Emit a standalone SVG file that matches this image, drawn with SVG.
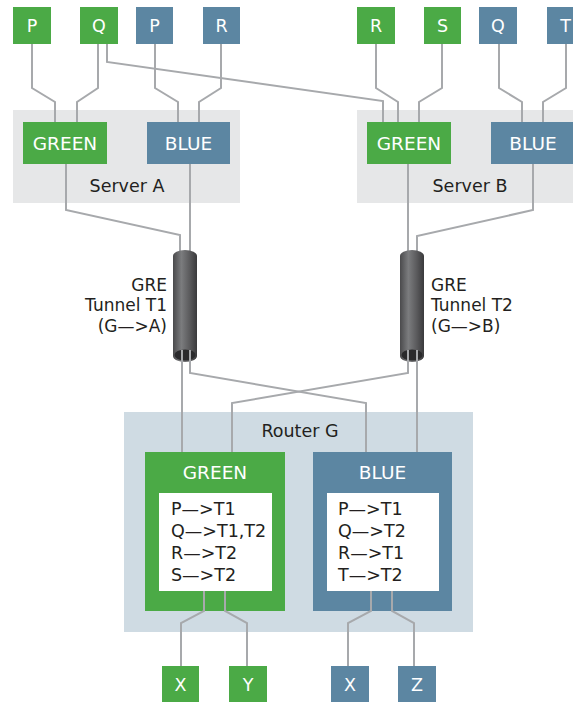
<svg xmlns="http://www.w3.org/2000/svg" width="573" height="702" viewBox="0 0 573 702">
<style>
.g{fill:#4baa46}
.b{fill:#5c86a2}
.srv{fill:#e6e7e8}
.rtr{fill:#cfdbe3}
.w{fill:#ffffff}
.lbl{font-family:"DejaVu Sans","Liberation Sans",sans-serif;fill:#ffffff;text-anchor:middle}
.dk{font-family:"DejaVu Sans","Liberation Sans",sans-serif;fill:#231f20}
.con path{fill:none;stroke:#a7a9ac;stroke-width:2;stroke-linejoin:miter}
.tb{fill:url(#tg)}
.th{fill:#2a2a2c}
</style>
<defs>
<linearGradient id="tg" x1="0" y1="0" x2="1" y2="0">
<stop offset="0" stop-color="#4a4a4c"/>
<stop offset="0.35" stop-color="#7b7c7e"/>
<stop offset="0.7" stop-color="#5a5a5c"/>
<stop offset="1" stop-color="#3a3a3c"/>
</linearGradient>
</defs>

<g id="serverA">
<rect class="srv" x="13" y="110" width="227" height="93"/>
<text class="dk" x="127" y="192" font-size="17.5" text-anchor="middle">Server A</text>
</g>
<g id="serverB">
<rect class="srv" x="357" y="110" width="216" height="93"/>
<text class="dk" x="470" y="192" font-size="17.5" text-anchor="middle">Server B</text>
</g>
<g id="routerG">
<rect class="rtr" x="124" y="412" width="349" height="220"/>
<text class="dk" x="300" y="437" font-size="17.5" text-anchor="middle">Router G</text>
</g>

<g id="connectors" class="con">
<path d="M32,44V88L55,102V122"/>
<path d="M98,44V88L77,102V122"/>
<path d="M107,44V62L383,101V122"/>
<path d="M155,44V88L178,102V122"/>
<path d="M221,44V88L199,102V122"/>
<path d="M376,44V88L398,102V122"/>
<path d="M442,44V88L419,102V122"/>
<path d="M499,44V88L522,102V122"/>
<path d="M566,44V88L543,102V122"/>
<path d="M66,164V210L180,235V256"/>
<path d="M190,164V256"/>
<path d="M408,164V256"/>
<path d="M533,164V210L417,236V256"/>
</g>

<g id="tunnelT1">
<path class="tb" d="M173,256A12,6 0 0 1 197,256V356A12,6 0 0 1 173,356Z"/>
<ellipse class="th" cx="185" cy="355" rx="10.5" ry="5.5"/>
<text class="dk" font-size="17" text-anchor="end"><tspan x="167" y="291">GRE</tspan><tspan x="167" y="311">Tunnel T1</tspan><tspan x="167" y="332">(G—&gt;A)</tspan></text>
</g>
<g id="tunnelT2">
<path class="tb" d="M400,256A12,6 0 0 1 424,256V356A12,6 0 0 1 400,356Z"/>
<ellipse class="th" cx="412" cy="355" rx="10.5" ry="5.5"/>
<text class="dk" font-size="17"><tspan x="431" y="291">GRE</tspan><tspan x="431" y="311">Tunnel T2</tspan><tspan x="431" y="332">(G—&gt;B)</tspan></text>
</g>

<g id="routerGreen">
<rect class="g" x="145" y="452" width="140" height="159"/>
<rect class="w" x="159" y="493" width="113" height="98"/>
<text class="lbl" x="215" y="479" font-size="18.5">GREEN</text>
<text class="dk" font-size="17.5"><tspan x="171" y="515">P—&gt;T1</tspan><tspan x="171" y="537">Q—&gt;T1,T2</tspan><tspan x="171" y="559">R—&gt;T2</tspan><tspan x="171" y="581">S—&gt;T2</tspan></text>
</g>
<g id="routerBlue">
<rect class="b" x="313" y="452" width="139" height="159"/>
<rect class="w" x="327" y="493" width="112" height="98"/>
<text class="lbl" x="382.5" y="479" font-size="18.5">BLUE</text>
<text class="dk" font-size="17.5"><tspan x="338" y="515">P—&gt;T1</tspan><tspan x="338" y="537">Q—&gt;T2</tspan><tspan x="338" y="559">R—&gt;T1</tspan><tspan x="338" y="581">T—&gt;T2</tspan></text>
</g>

<g id="connectors2" class="con">
<path d="M182,350V452"/>
<path d="M190,350V373L366,403V452"/>
<path d="M408,350V373L232,403V452"/>
<path d="M417,350V452"/>
<path d="M204,591V611L181,623V666"/>
<path d="M225,591V611L247,623V666"/>
<path d="M371,591V611L348,623V666"/>
<path d="M392,591V611L414,623V666"/>
</g>

<g id="serverA-green"><rect class="g" x="23" y="122" width="84" height="42"/><text class="lbl" x="65" y="150" font-size="18.5">GREEN</text></g>
<g id="serverA-blue"><rect class="b" x="147" y="122" width="83" height="42"/><text class="lbl" x="188.5" y="150" font-size="18.5">BLUE</text></g>
<g id="serverB-green"><rect class="g" x="367" y="122" width="84" height="42"/><text class="lbl" x="409" y="150" font-size="18.5">GREEN</text></g>
<g id="serverB-blue"><rect class="b" x="491" y="122" width="84" height="42"/><text class="lbl" x="533" y="150" font-size="18.5">BLUE</text></g>

<g id="topP-green"><rect class="g" x="13" y="7" width="38" height="37"/><text class="lbl" x="32" y="32" font-size="17.5">P</text></g>
<g id="topQ-green"><rect class="g" x="80" y="7" width="38" height="37"/><text class="lbl" x="99" y="32" font-size="17.5">Q</text></g>
<g id="topP-blue"><rect class="b" x="136" y="7" width="37" height="37"/><text class="lbl" x="154.5" y="32" font-size="17.5">P</text></g>
<g id="topR-blue"><rect class="b" x="203" y="7" width="37" height="37"/><text class="lbl" x="221.5" y="32" font-size="17.5">R</text></g>
<g id="topR-green"><rect class="g" x="357" y="7" width="38" height="37"/><text class="lbl" x="376" y="32" font-size="17.5">R</text></g>
<g id="topS-green"><rect class="g" x="424" y="7" width="37" height="37"/><text class="lbl" x="442.5" y="32" font-size="17.5">S</text></g>
<g id="topQ-blue"><rect class="b" x="479" y="7" width="38" height="37"/><text class="lbl" x="498" y="32" font-size="17.5">Q</text></g>
<g id="topT-blue"><rect class="b" x="547" y="7" width="37" height="37"/><text class="lbl" x="565.5" y="32" font-size="17.5">T</text></g>

<g id="botX-green"><rect class="g" x="162" y="666" width="37" height="37"/><text class="lbl" x="180.5" y="691" font-size="17.5">X</text></g>
<g id="botY-green"><rect class="g" x="229" y="666" width="38" height="37"/><text class="lbl" x="248" y="691" font-size="17.5">Y</text></g>
<g id="botX-blue"><rect class="b" x="331" y="666" width="38" height="37"/><text class="lbl" x="350" y="691" font-size="17.5">X</text></g>
<g id="botZ-blue"><rect class="b" x="398" y="666" width="38" height="37"/><text class="lbl" x="417" y="691" font-size="17.5">Z</text></g>
</svg>
